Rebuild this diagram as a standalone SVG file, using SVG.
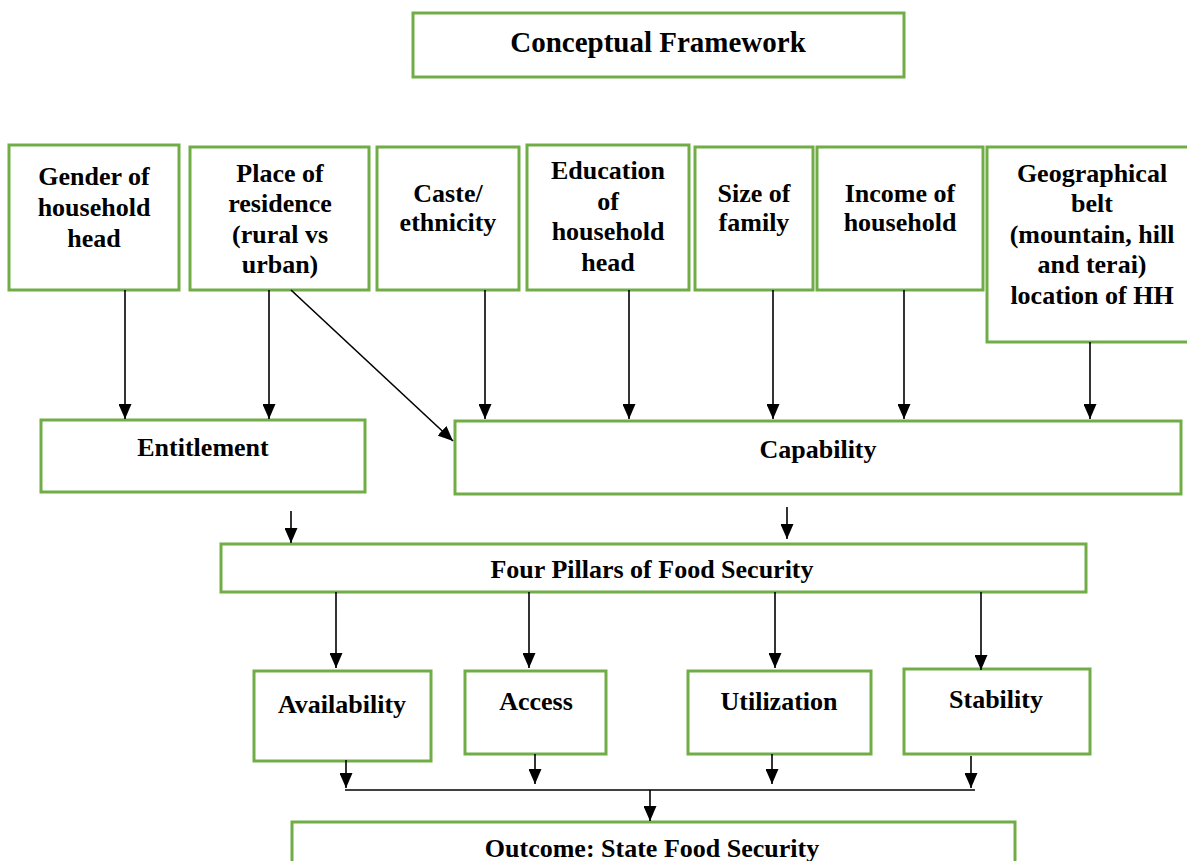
<svg xmlns="http://www.w3.org/2000/svg" width="1187" height="861" viewBox="0 0 1187 861">
<style>
.box{fill:#fff;stroke:#70AD47;stroke-width:3}
.t{font-family:"Liberation Serif","Times New Roman",serif;font-weight:bold;font-size:26px;fill:#000;text-anchor:middle}
.title{font-size:29px}
.c{stroke:#000;stroke-width:1.6;fill:none}
</style>
<defs>
<marker id="ah" markerUnits="userSpaceOnUse" markerWidth="15" markerHeight="13" viewBox="0 0 15 13" refX="15" refY="6.5" orient="auto">
<path d="M0,0 L15,6.5 L0,13 z" fill="#000"/>
</marker>
</defs>
<rect width="1187" height="861" fill="#fff"/>
<g id="title"><rect class="box" x="413" y="13" width="491" height="64"/><text class="t title" x="658" y="52">Conceptual Framework</text></g>
<g id="gender"><rect class="box" x="9" y="145" width="170" height="145"/><text class="t" x="94" y="185">Gender of</text><text class="t" x="94" y="216">household</text><text class="t" x="94" y="247">head</text></g>
<g id="place"><rect class="box" x="190" y="147" width="179" height="143"/><text class="t" x="280" y="182">Place of</text><text class="t" x="280" y="212">residence</text><text class="t" x="280" y="243">(rural vs</text><text class="t" x="280" y="273">urban)</text></g>
<g id="caste"><rect class="box" x="377" y="147" width="142" height="143"/><text class="t" x="448" y="202">Caste/</text><text class="t" x="448" y="231">ethnicity</text></g>
<g id="education"><rect class="box" x="527" y="145" width="162" height="145"/><text class="t" x="608" y="179">Education</text><text class="t" x="608" y="210">of</text><text class="t" x="608" y="240">household</text><text class="t" x="608" y="271">head</text></g>
<g id="size"><rect class="box" x="695" y="147" width="118" height="143"/><text class="t" x="754" y="202">Size of</text><text class="t" x="754" y="231">family</text></g>
<g id="income"><rect class="box" x="817" y="147" width="166" height="143"/><text class="t" x="900" y="202">Income of</text><text class="t" x="900" y="231">household</text></g>
<g id="geo"><rect class="box" x="987" y="147" width="210" height="195"/><text class="t" x="1092" y="182">Geographical</text><text class="t" x="1092" y="212">belt</text><text class="t" x="1092" y="243">(mountain, hill</text><text class="t" x="1092" y="273">and terai)</text><text class="t" x="1092" y="304">location of HH</text></g>
<g id="entitlement"><rect class="box" x="41" y="420" width="324" height="72"/><text class="t" x="203" y="456">Entitlement</text></g>
<g id="capability"><rect class="box" x="455" y="421" width="726" height="73"/><text class="t" x="818" y="458">Capability</text></g>
<g id="pillars"><rect class="box" x="221" y="544" width="865" height="48"/><text class="t" x="652" y="578">Four Pillars of Food Security</text></g>
<g id="availability"><rect class="box" x="254" y="671" width="177" height="90"/><text class="t" x="342" y="713">Availability</text></g>
<g id="access"><rect class="box" x="465" y="671" width="141" height="83"/><text class="t" x="536" y="710">Access</text></g>
<g id="utilization"><rect class="box" x="688" y="671" width="183" height="83"/><text class="t" x="779" y="710">Utilization</text></g>
<g id="stability"><rect class="box" x="904" y="669" width="186" height="85"/><text class="t" x="996" y="708">Stability</text></g>
<g id="outcome"><rect class="box" x="292" y="822" width="723" height="60"/><text class="t" x="652" y="857">Outcome: State Food Security</text></g>
<g id="connectors">
<line class="c" x1="125" y1="290" x2="125" y2="419" marker-end="url(#ah)"/>
<line class="c" x1="269" y1="290" x2="269" y2="419" marker-end="url(#ah)"/>
<line class="c" x1="291" y1="290" x2="453" y2="441" marker-end="url(#ah)"/>
<line class="c" x1="485" y1="290" x2="485" y2="419" marker-end="url(#ah)"/>
<line class="c" x1="629" y1="290" x2="629" y2="419" marker-end="url(#ah)"/>
<line class="c" x1="773" y1="290" x2="773" y2="419" marker-end="url(#ah)"/>
<line class="c" x1="904" y1="290" x2="904" y2="419" marker-end="url(#ah)"/>
<line class="c" x1="1090" y1="342" x2="1090" y2="419" marker-end="url(#ah)"/>
<line class="c" x1="291" y1="511" x2="291" y2="543" marker-end="url(#ah)"/>
<line class="c" x1="787" y1="507" x2="787" y2="539" marker-end="url(#ah)"/>
<line class="c" x1="336" y1="592" x2="336" y2="668" marker-end="url(#ah)"/>
<line class="c" x1="529" y1="592" x2="529" y2="668" marker-end="url(#ah)"/>
<line class="c" x1="775" y1="592" x2="775" y2="668" marker-end="url(#ah)"/>
<line class="c" x1="981" y1="592" x2="981" y2="670" marker-end="url(#ah)"/>
<line class="c" x1="346" y1="760" x2="346" y2="788" marker-end="url(#ah)"/>
<line class="c" x1="535" y1="754" x2="535" y2="784" marker-end="url(#ah)"/>
<line class="c" x1="772" y1="754" x2="772" y2="784" marker-end="url(#ah)"/>
<line class="c" x1="971" y1="756" x2="971" y2="788" marker-end="url(#ah)"/>
<line class="c" x1="345" y1="790" x2="975" y2="790" stroke-width="2.5"/>
<line class="c" x1="650" y1="790" x2="650" y2="821" marker-end="url(#ah)"/>
</g>
</svg>
